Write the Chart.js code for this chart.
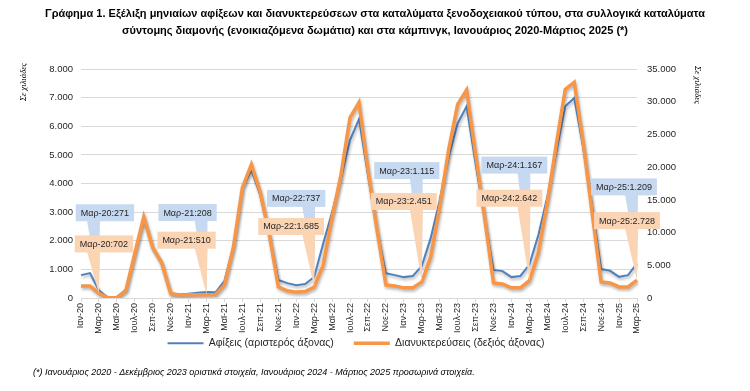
<!DOCTYPE html>
<html>
<head>
<meta charset="utf-8">
<script src="https://cdn.jsdelivr.net/npm/chart.js@4"></script>
<style>
  body { margin: 0; background: #fff; }
  canvas { display: block; }
</style>
</head>
<body>
<canvas id="chart" width="750" height="391"></canvas>
<script>
// months Jan 2020 - Mar 2025, values in thousands
const monthNames = ['Ιαν', 'Φεβ', 'Μαρ', 'Απρ', 'Μαϊ', 'Ιουν', 'Ιουλ', 'Αυγ', 'Σεπ', 'Οκτ', 'Νοε', 'Δεκ'];
const years = ['20', '21', '22', '23', '24', '25'];
const labels = [];
years.forEach(y => monthNames.forEach(m => labels.push(m + '-' + y)));
labels.length = 63;

// Αφίξεις (left axis)
const arrivals = [
  800, 870, 271, 10, 30, 300, 1550, 2800, 1750, 1220, 160, 120,
  150, 180, 208, 200, 600, 1800, 3840, 4470, 3600, 2200, 630, 520,
  450, 490, 737, 1900, 3000, 4200, 5520, 6250, 4300, 2400, 870, 800,
  730, 770, 1115, 2100, 3420, 4930, 6100, 6700, 4700, 2800, 980, 940,
  730, 770, 1167, 2200, 3530, 5100, 6700, 6990, 5270, 3180, 1010, 950,
  740, 800, 1209
];
// Διανυκτερεύσεις (right axis)
const stays = [
  1840, 1850, 702, 30, 90, 1100, 6800, 12400, 7700, 5400, 700, 450,
  480, 500, 510, 550, 2000, 7800, 16900, 20400, 16100, 9700, 1700, 1100,
  900, 1000, 1685, 5000, 12300, 18900, 27600, 29900, 19600, 10500, 2000, 1850,
  1550, 1550, 2451, 6300, 14000, 22700, 29600, 31800, 22000, 12400, 2300, 2150,
  1550, 1550, 2642, 6900, 14600, 23500, 31900, 33000, 23800, 13000, 2450, 2300,
  1700, 1700, 2728
];

const titleLines = [
  'Γράφημα 1. Εξέλιξη μηνιαίων αφίξεων και διανυκτερεύσεων στα καταλύματα ξενοδοχειακού τύπου, στα συλλογικά καταλύματα',
  'σύντομης διαμονής (ενοικιαζόμενα δωμάτια) και στα κάμπινγκ, Ιανουάριος 2020-Μάρτιος 2025 (*)'
];
const footnote = '(*) Ιανουάριος 2020 - Δεκέμβριος 2023 οριστικά στοιχεία, Ιανουάριος 2024 - Μάρτιος 2025 προσωρινά στοιχεία.';
const axisTitle = 'Σε χιλιάδες';

// callout boxes: offset of the box from its data point (px)
const calloutLayout = [
  { index: 2,  blue: { dx: 6,   dy: -86 },  orange: { dx: 5,   dy: -58 } },
  { index: 14, blue: { dx: -19, dy: -88 },  orange: { dx: -20, dy: -63 } },
  { index: 26, blue: { dx: -18, dy: -87 },  orange: { dx: -23, dy: -69 } },
  { index: 38, blue: { dx: -15, dy: -104 }, orange: { dx: -18, dy: -89 } },
  { index: 50, blue: { dx: -15, dy: -108 }, orange: { dx: -20, dy: -91 } },
  { index: 62, blue: { dx: -13, dy: -85 },  orange: { dx: -10, dy: -68 } }
];

const FONT = '"Liberation Sans", Arial, sans-serif';
const BLUE = '#4F81BD';
const ORANGE = '#F79646';

function fmt(v) {
  return String(Math.round(v)).replace(/\B(?=(\d{3})+(?!\d))/g, '.');
}

function drawCallout(ctx, px, py, text, off, fill) {
  const w = ctx.measureText(text).width + 10, h = 17;
  const left = px + off.dx - w / 2, top = py + off.dy, bottom = top + h;
  const b1 = Math.max(left, px - 12), b2 = Math.min(left + w, px + 1);
  ctx.fillStyle = fill;
  ctx.fillRect(left, top, w, h);
  ctx.beginPath();
  ctx.moveTo(b1, bottom - 1);
  ctx.lineTo(b2, bottom - 1);
  ctx.lineTo(px, py);
  ctx.closePath();
  ctx.fill();
  ctx.fillStyle = '#262626';
  ctx.fillText(text, left + w / 2, top + h / 2 + 0.5);
}

const calloutPlugin = {
  id: 'callouts',
  afterDatasetsDraw(chart) {
    const ctx = chart.ctx, x = chart.scales.x;
    ctx.save();
    ctx.font = '9px ' + FONT;
    ctx.textAlign = 'center';
    ctx.textBaseline = 'middle';
    calloutLayout.forEach(c => {
      const px = x.getPixelForValue(c.index);
      drawCallout(ctx, px, chart.scales.yL.getPixelForValue(arrivals[c.index]),
        labels[c.index] + ':' + fmt(arrivals[c.index]), c.blue, '#C6D9F1');
      drawCallout(ctx, px, chart.scales.yR.getPixelForValue(stays[c.index]),
        labels[c.index] + ':' + fmt(stays[c.index]), c.orange, '#FBD4B4');
    });
    ctx.restore();
  }
};

const shadowPlugin = {
  id: 'lineShadow',
  beforeDatasetDraw(chart) {
    const ctx = chart.ctx;
    ctx.save();
    ctx.shadowColor = 'rgba(0,0,0,0.3)';
    ctx.shadowBlur = 3;
    ctx.shadowOffsetX = 1;
    ctx.shadowOffsetY = 2;
  },
  afterDatasetDraw(chart) {
    chart.ctx.restore();
  }
};

// the legend sits higher than its layout box and a bit left of centre
const legendShift = {
  id: 'legendShift',
  afterLayout(chart) {
    const lg = chart.legend;
    lg.top -= 18; lg.bottom -= 18;
    lg.left -= 19; lg.right -= 19;
  }
};

const extraTextPlugin = {
  id: 'extraText',
  afterDraw(chart) {
    const ctx = chart.ctx;
    ctx.save();
    ctx.fillStyle = '#000';
    ctx.textAlign = 'center';
    ctx.textBaseline = 'middle';
    ctx.font = 'italic 8.5px "Liberation Serif", serif';
    ctx.save();
    ctx.translate(24, 82);
    ctx.rotate(-Math.PI / 2);
    ctx.fillText(axisTitle, 0, 0);
    ctx.restore();
    ctx.save();
    ctx.translate(697, 85);
    ctx.rotate(Math.PI / 2);
    ctx.fillText(axisTitle, 0, 0);
    ctx.restore();
    ctx.font = 'italic 9px ' + FONT;
    ctx.textAlign = 'left';
    ctx.fillText(footnote, 33, 372);
    ctx.restore();
  }
};

const ctx = document.getElementById('chart').getContext('2d');
new Chart(ctx, {
  type: 'line',
  data: {
    labels: labels,
    datasets: [
      {
        label: 'Διανυκτερεύσεις (δεξιός άξονας)',
        data: stays,
        yAxisID: 'yR',
        borderColor: ORANGE,
        backgroundColor: ORANGE,
        borderWidth: 3.5,
        pointRadius: 0,
        fill: false
      },
      {
        label: 'Αφίξεις (αριστερός άξονας)',
        data: arrivals,
        yAxisID: 'yL',
        borderColor: BLUE,
        backgroundColor: BLUE,
        borderWidth: 2,
        pointRadius: 0,
        fill: false
      }
    ]
  },
  options: {
    responsive: false,
    animation: false,
    layout: { padding: { left: 0, right: 0, top: 0, bottom: 14.5 } },
    plugins: {
      title: {
        display: true,
        text: titleLines,
        color: '#000',
        font: { family: FONT, size: 11, weight: 'bold', lineHeight: 1.55 },
        padding: { top: 5.5, bottom: 29.5 }
      },
      legend: {
        position: 'bottom',
        labels: {
          usePointStyle: true,
          pointStyle: 'line',
          pointStyleWidth: 36,
          padding: 20,
          color: '#262626',
          font: { family: FONT, size: 10.5 },
          sort: (a, b) => b.datasetIndex - a.datasetIndex
        }
      },
      tooltip: { enabled: false }
    },
    scales: {
      x: {
        offset: false,
        grid: {
          drawOnChartArea: false,
          drawTicks: true,
          tickLength: 4,
          color: c => (c.index % 2 === 0 ? '#D9D9D9' : 'rgba(0,0,0,0)')
        },
        border: { color: '#D9D9D9' },
        ticks: {
          autoSkip: false,
          minRotation: 90,
          maxRotation: 90,
          padding: 1,
          color: '#262626',
          font: { family: FONT, size: 9 },
          callback: (v, i) => (i % 2 === 0 ? labels[i] : '')
        },
        afterFit(s) { s.height = 38; }
      },
      yL: {
        position: 'left',
        min: 0,
        max: 8000,
        grid: { color: '#D9D9D9', drawTicks: false },
        border: { display: false },
        ticks: {
          stepSize: 1000,
          padding: 8,
          color: '#262626',
          font: { family: FONT, size: 9.5 },
          callback: v => fmt(v)
        },
        afterFit(s) { s.width = 81; }
      },
      yR: {
        position: 'right',
        min: 0,
        max: 35000,
        grid: { display: false, drawTicks: false },
        border: { display: false },
        ticks: {
          stepSize: 5000,
          padding: 10,
          color: '#262626',
          font: { family: FONT, size: 9.5 },
          callback: v => fmt(v)
        },
        afterFit(s) { s.width = 113; }
      }
    }
  },
  plugins: [shadowPlugin, legendShift, calloutPlugin, extraTextPlugin]
});
</script>
</body>
</html>
